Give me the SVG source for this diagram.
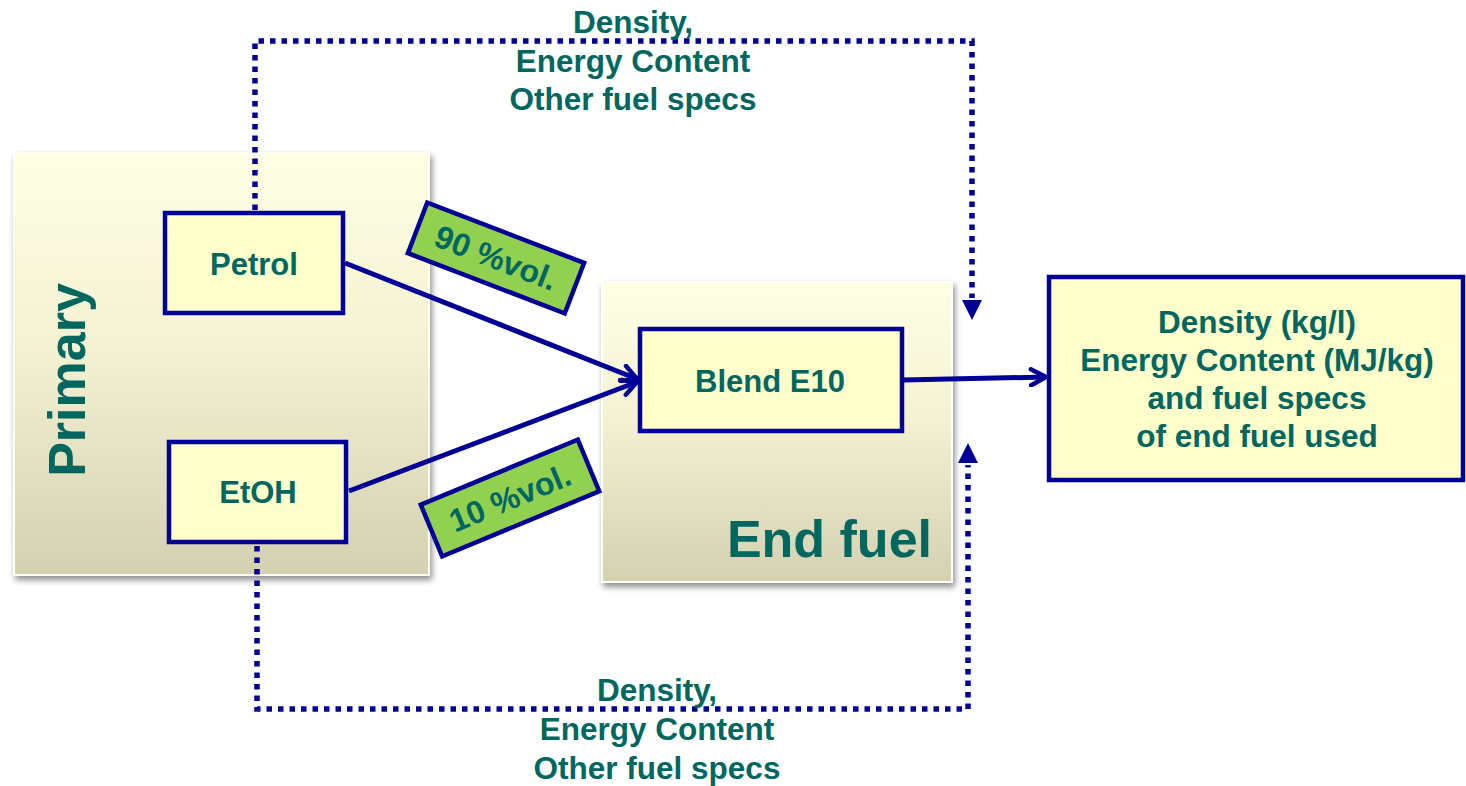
<svg xmlns="http://www.w3.org/2000/svg" width="1466" height="786" viewBox="0 0 1466 786">
<defs>
<linearGradient id="panel" x1="0" y1="0" x2="0" y2="1">
<stop offset="0" stop-color="#FFFFE6"/>
<stop offset="0.45" stop-color="#F4F2D2"/>
<stop offset="1" stop-color="#D3D1B0"/>
</linearGradient>
<filter id="shadow" x="-10%" y="-10%" width="125%" height="125%">
<feGaussianBlur in="SourceAlpha" stdDeviation="3"/>
<feOffset dx="2" dy="4" result="b"/>
<feComponentTransfer><feFuncA type="linear" slope="0.45"/></feComponentTransfer>
<feMerge><feMergeNode/><feMergeNode in="SourceGraphic"/></feMerge>
</filter>
<marker id="chev" viewBox="0 0 20 20" markerWidth="20" markerHeight="20" refX="18" refY="10" orient="auto" markerUnits="userSpaceOnUse">
<path d="M3,2 L18,10 L3,18" fill="none" stroke="#000096" stroke-width="4.5" stroke-linecap="round" stroke-linejoin="round"/>
</marker>
</defs>
<style>
.t{font-family:"Liberation Sans",Arial,sans-serif;font-weight:bold;fill:#006660;text-anchor:middle}
.box{fill:#FFFFCC;stroke:#000096;stroke-width:4.5}
.panel{fill:url(#panel);stroke:#FFFFF4;stroke-width:2;filter:url(#shadow)}
.tag{fill:#92D050;stroke:#000096;stroke-width:4.5}
.solid{fill:none;stroke:#000096;stroke-width:5;marker-end:url(#chev)}
.dot{fill:none;stroke:#000096;stroke-width:5.5;stroke-dasharray:5.5 6}
.head{fill:#000096}
</style>
<rect width="1466" height="786" fill="#FFFFFF"/>

<g id="primary">
<rect class="panel" x="14" y="153" width="415" height="422"/>
<text class="t" font-size="52" transform="translate(85,380) rotate(-90)">Primary</text>
</g>

<g id="endfuel">
<rect class="panel" x="602" y="282" width="350" height="300"/>
<text class="t" font-size="52" x="932" y="557" style="text-anchor:end">End fuel</text>
</g>

<g id="connectors">
<path class="dot" d="M255,210 V41 H972 V298"/>
<polygon class="head" points="962,300 982,300 972,320"/>
<path class="dot" d="M257,546 V709 H968 V465"/>
<polygon class="head" points="958,463 978,463 968,443"/>
<line class="solid" x1="345" y1="263" x2="637" y2="379"/>
<line class="solid" x1="349" y1="491" x2="637" y2="382"/>
<line class="solid" x1="903" y1="380" x2="1046" y2="377"/>
</g>

<g id="petrol">
<rect class="box" x="165" y="213" width="178" height="100"/>
<text class="t" font-size="31" x="254" y="275">Petrol</text>
</g>

<g id="etoh">
<rect class="box" x="169" y="442" width="177" height="100"/>
<text class="t" font-size="31" x="258" y="503">EtOH</text>
</g>

<g id="blend">
<rect class="box" x="640" y="329" width="262" height="102"/>
<text class="t" font-size="31" x="770" y="392">Blend E10</text>
</g>

<g id="result">
<rect class="box" x="1049" y="277" width="414" height="203"/>
<text class="t" font-size="31.5" x="1257" y="333">Density (kg/l)</text>
<text class="t" font-size="31.5" x="1257" y="371">Energy Content (MJ/kg)</text>
<text class="t" font-size="31.5" x="1257" y="409">and fuel specs</text>
<text class="t" font-size="31.5" x="1257" y="447">of end fuel used</text>
</g>

<g id="tag90" transform="translate(496,258) rotate(21)">
<rect class="tag" x="-84" y="-27" width="168" height="54"/>
<text class="t" font-size="32" x="0" y="11">90 %vol.</text>
</g>

<g id="tag10" transform="translate(510,498) rotate(-22.5)">
<rect class="tag" x="-85" y="-28" width="170" height="56"/>
<text class="t" font-size="32" x="0" y="11">10 %vol.</text>
</g>

<g id="toplabel">
<text class="t" font-size="31.5" x="633" y="33">Density,</text>
<text class="t" font-size="31.5" x="633" y="72">Energy Content</text>
<text class="t" font-size="31.5" x="633" y="110">Other fuel specs</text>
</g>

<g id="bottomlabel">
<text class="t" font-size="31.5" x="657" y="701">Density,</text>
<text class="t" font-size="31.5" x="657" y="740">Energy Content</text>
<text class="t" font-size="31.5" x="657" y="779">Other fuel specs</text>
</g>
</svg>
